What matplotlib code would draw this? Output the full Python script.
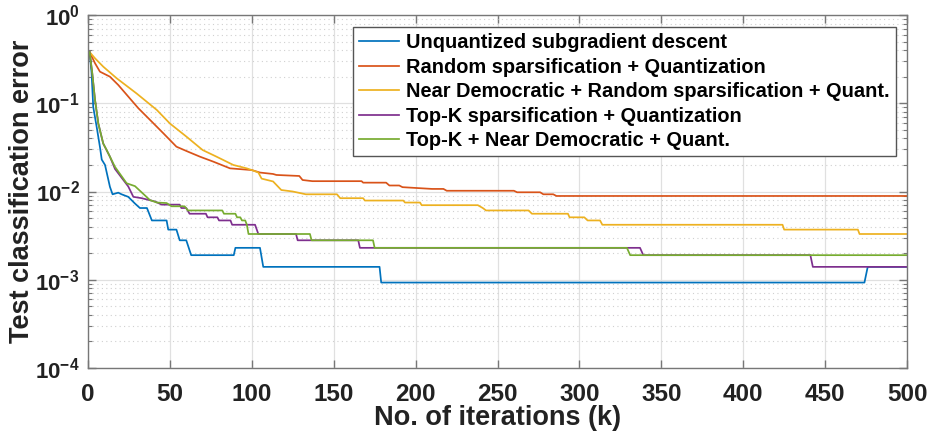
import matplotlib
matplotlib.use("Agg")
import matplotlib.pyplot as plt
from matplotlib.ticker import LogLocator, FixedLocator, NullFormatter

plt.rcParams["font.family"] = ["Liberation Sans", "DejaVu Sans"]
plt.rcParams["mathtext.fontset"] = "custom"
plt.rcParams["mathtext.rm"] = "Liberation Sans"
plt.rcParams["mathtext.bf"] = "Liberation Sans:bold"

# breakpoints (iteration, test error)
blue_x = [1, 2.2, 3.2, 5.3, 7.3, 8.4, 10.4, 13.4, 15, 18.5, 20.5, 24.6, 28.7, 31.7,
          36, 39, 48, 49, 54, 56, 60, 63, 89, 90, 105, 107, 178, 179, 474, 476, 500]
blue_y = [0.38, 0.22, 0.091, 0.054, 0.032, 0.023, 0.020, 0.0113, 0.0093, 0.0097, 0.0093,
          0.0087, 0.0073, 0.0065, 0.0065, 0.0047, 0.0047, 0.0037, 0.0037, 0.0028, 0.0028,
          0.0019, 0.0019, 0.0023, 0.0023, 0.0014, 0.0014, 0.00093, 0.00093, 0.0014, 0.0014]

red_x = [1, 4.3, 7.3, 13.4, 18.5, 24.6, 30.7, 38.9, 46, 54, 61, 68.4, 76.5, 86.7, 100,
         105, 113, 115, 129, 131, 137, 167, 168, 182, 184, 190, 192, 210, 217, 219, 260,
         262, 276, 278, 284, 286, 500]
red_y = [0.38, 0.284, 0.228, 0.20, 0.161, 0.119, 0.088, 0.062, 0.0457, 0.0322, 0.0283,
         0.0248, 0.0218, 0.0183, 0.0175, 0.0164, 0.0158, 0.0154, 0.0150, 0.0135, 0.0131,
         0.0131, 0.0126, 0.0126, 0.0117, 0.0117, 0.0112, 0.0107, 0.0107, 0.0102, 0.0102,
         0.0098, 0.0098, 0.0093, 0.0093, 0.0089, 0.0089]

yellow_x = [1, 4.3, 9.3, 17.5, 29.7, 42, 50, 60, 70, 78.5, 88.7, 96.9, 100, 104, 106, 113,
            118, 125, 133, 152, 154, 168, 169, 192.5, 193.5, 202.7, 203.7, 238, 241, 243,
            269, 271, 293, 294, 303, 305, 312.6, 314, 424, 425, 470, 471, 500]
yellow_y = [0.38, 0.323, 0.26, 0.192, 0.129, 0.084, 0.059, 0.042, 0.0295, 0.0248, 0.020,
            0.0183, 0.0175, 0.0164, 0.0140, 0.0130, 0.0104, 0.0100, 0.0093, 0.0093, 0.0084,
            0.0084, 0.0079, 0.0079, 0.0075, 0.0075, 0.0070, 0.0070, 0.0065, 0.0061, 0.0061,
            0.0056, 0.0056, 0.0051, 0.0051, 0.0047, 0.0047, 0.0042, 0.0042, 0.0037, 0.0037,
            0.0033, 0.0033]

purple_x = [1, 2.6, 4.3, 6.3, 9.3, 13.4, 16.5, 24.6, 27.7, 32.8, 41, 45, 56, 57, 60, 62,
            72, 73, 79, 80, 87, 88, 102, 104, 127, 128, 165, 166, 337, 339, 441, 442.5, 500]
purple_y = [0.38, 0.22, 0.109, 0.059, 0.035, 0.0248, 0.018, 0.0114, 0.0087, 0.0084, 0.0077,
            0.0071, 0.0071, 0.0065, 0.0065, 0.0056, 0.0056, 0.0051, 0.0051, 0.0047, 0.0047,
            0.0042, 0.0042, 0.0033, 0.0033, 0.0028, 0.0028, 0.0023, 0.0023, 0.0019, 0.0019,
            0.0014, 0.0014]

green_x = [1, 2.6, 4.3, 6.3, 9.3, 11.4, 16.5, 23.6, 28.7, 37.8, 42, 48, 51, 59, 61, 82, 83,
           90, 91, 93, 94, 96, 97, 98, 135.5, 136.5, 174, 175, 329, 331, 500]
green_y = [0.38, 0.22, 0.109, 0.059, 0.035, 0.0295, 0.019, 0.0124, 0.0115, 0.0080, 0.0075,
           0.0074, 0.0068, 0.0068, 0.0061, 0.0061, 0.0056, 0.0056, 0.0051, 0.0051, 0.0047,
           0.0047, 0.0042, 0.0033, 0.0033, 0.0028, 0.0028, 0.0023, 0.0023, 0.0019, 0.0019]

labels = ["Unquantized subgradient descent",
          "Random sparsification + Quantization",
          "Near Democratic + Random sparsification + Quant.",
          "Top-K sparsification + Quantization",
          "Top-K + Near Democratic + Quant."]
colors = ["#0072BD", "#D95319", "#EDB120", "#7E2F8E", "#77AC30"]

x_ticks = [0, 50, 100, 150, 200, 250, 300, 350, 400, 450, 500]
y_ticks = [1e-4, 1e-3, 1e-2, 1e-1, 1e0]
y_ticklabels = [r"$\mathbf{10^{-4}}$", r"$\mathbf{10^{-3}}$", r"$\mathbf{10^{-2}}$",
                r"$\mathbf{10^{-1}}$", r"$\mathbf{10^{0}}$"]

fig = plt.figure(figsize=(9.3, 4.4), dpi=100)
ax = fig.add_axes([0.0946, 0.1636, 0.8807, 0.8023])

series = [(blue_x, blue_y), (red_x, red_y), (yellow_x, yellow_y),
          (purple_x, purple_y), (green_x, green_y)]
for (xs, ys), c, lab in zip(series, colors, labels):
    ax.plot(xs, ys, color=c, lw=1.25, label=lab)

ax.set_yscale("log")
ax.set_xlim(0, 500)
ax.set_ylim(1e-4, 1e0)
ax.set_xticks(x_ticks)
ax.set_xticklabels([str(t) for t in x_ticks], fontsize=17.5, fontweight="bold")
ax.yaxis.set_major_locator(FixedLocator(y_ticks))
ax.set_yticklabels(y_ticklabels, fontsize=16)
ax.yaxis.set_minor_locator(LogLocator(base=10, subs=range(2, 10), numticks=20))
ax.yaxis.set_minor_formatter(NullFormatter())

# MATLAB-like box, inward ticks on all sides
ax.tick_params(which="both", direction="in", top=True, right=True, colors="#777777",
               labelcolor="#222222")
ax.tick_params(which="major", length=6, width=1.0)
ax.tick_params(axis="x", which="major", pad=11)
ax.tick_params(axis="y", which="major", pad=6)
ax.tick_params(which="minor", length=3, width=0.8)
for s in ax.spines.values():
    s.set_color("#777777")
    s.set_linewidth(1.0)

ax.grid(True, which="major", color="#e0e0e0", lw=0.9, ls="-")
ax.grid(True, which="minor", axis="y", color="#d0d0d0", lw=0.8, ls=(0, (1, 3)))
ax.set_axisbelow(True)

ax.set_xlabel("No. of iterations (k)", fontsize=19.5, fontweight="bold", color="#222222")
ax.xaxis.set_label_coords(0.5, -0.105)
ax.set_ylabel("Test classification error", fontsize=19.5, fontweight="bold", color="#222222")
ax.yaxis.set_label_coords(-0.065, 0.5)

leg = ax.legend(loc="upper left", bbox_to_anchor=(0.3236, 0.966), borderaxespad=0,
                prop={"weight": "bold", "size": 14.4}, handlelength=2.0,
                handletextpad=0.35, labelspacing=0.28, borderpad=0.3, fancybox=False,
                framealpha=1, edgecolor="#555555")
leg.get_frame().set_linewidth(1.0)

fig.savefig("out.png", dpi=100)
